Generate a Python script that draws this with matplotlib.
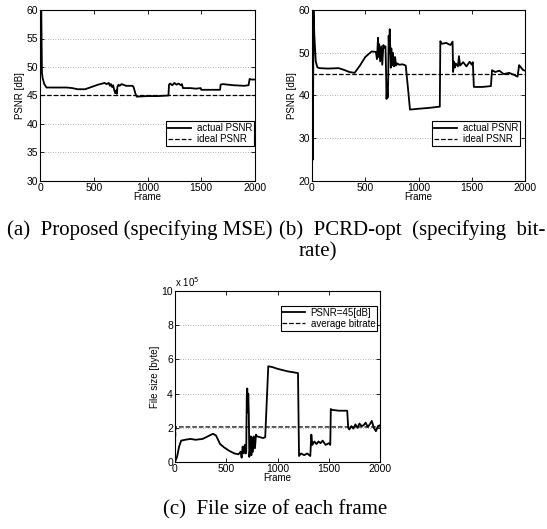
import numpy as np
import matplotlib
matplotlib.use("Agg")
import matplotlib.pyplot as plt

plt.rcParams['font.family'] = ['Liberation Sans', 'DejaVu Sans']

# (a) proposed, PSNR per frame
a_frame = [0, 8, 12, 18, 25, 40, 60, 150, 250, 300,
           350, 420, 480, 540, 600, 620, 640, 650, 660, 670,
           680, 690, 700, 710, 715, 720, 730, 740, 760, 800,
           860, 870, 890, 900, 1000, 1100, 1195, 1200, 1210, 1230,
           1250, 1270, 1290, 1310, 1320, 1330, 1400, 1450, 1495, 1500,
           1600, 1675, 1680, 1700, 1800, 1900, 1940, 1950, 1970, 2000]
a_psnr = [48.0, 60.0, 60.0, 49.0, 48.0, 47.0, 46.4, 46.4, 46.4, 46.3,
          46.1, 46.1, 46.5, 46.9, 47.2, 47.0, 47.2, 46.7, 47.0, 46.5,
          46.8, 46.0, 45.4, 45.9, 45.3, 46.5, 46.9, 46.7, 47.0, 46.7,
          46.7, 46.5, 45.2, 44.8, 44.9, 44.9, 45.0, 46.9, 47.1, 46.8,
          47.2, 46.9, 47.1, 46.8, 47.0, 46.3, 46.3, 46.2, 46.3, 46.0,
          46.0, 46.0, 46.9, 47.0, 46.8, 46.7, 46.8, 47.9, 47.8, 47.8]

# (b) PCRD-opt, PSNR per frame
b_frame = [0, 8, 14, 22, 35, 50, 70, 150, 250, 300,
           350, 400, 450, 500, 560, 600, 610, 620, 625, 630,
           640, 650, 660, 670, 680, 690, 695, 700, 705, 710,
           715, 720, 725, 730, 740, 745, 750, 760, 770, 780,
           790, 800, 820, 850, 880, 900, 920, 1000, 1100, 1200,
           1205, 1220, 1260, 1300, 1320, 1325, 1330, 1340, 1350, 1370,
           1380, 1390, 1420, 1450, 1480, 1500, 1510, 1520, 1600, 1680,
           1690, 1720, 1760, 1800, 1850, 1900, 1930, 1945, 1955, 1980,
           2000]
b_psnr = [60.0, 25.0, 60.0, 54.0, 48.0, 46.6, 46.4, 46.3, 46.4, 46.0,
          45.5, 45.3, 47.0, 49.0, 50.3, 50.2, 48.5, 53.5, 49.0, 52.0,
          48.0, 51.5, 47.2, 51.8, 51.2, 51.5, 46.0, 39.2, 42.0, 39.5,
          43.0, 54.0, 50.0, 55.5, 46.5, 51.0, 47.0, 50.0, 46.8, 49.0,
          47.0, 47.5, 47.2, 47.3, 47.0, 42.0, 36.7, 36.9, 37.1, 37.4,
          52.7, 52.1, 52.3, 51.8, 52.6, 45.5, 48.0, 46.5, 47.5, 46.8,
          49.2, 47.0, 47.8, 46.8, 47.9, 47.2, 47.8, 42.0, 42.0, 42.2,
          45.9, 45.5, 45.8, 45.0, 45.3, 44.8, 44.4, 47.1, 46.8, 46.0,
          45.8]

ideal_psnr = 45

# (c) file size per frame, in units of 1e5 byte
c_frame = [0, 20, 40, 60, 100, 150, 200, 270, 320, 370,
           400, 420, 440, 480, 530, 580, 620, 640, 650, 660,
           670, 680, 690, 695, 700, 705, 710, 715, 720, 725,
           730, 740, 745, 750, 760, 770, 780, 790, 800, 830,
           860, 880, 910, 950, 1000, 1100, 1200, 1210, 1230, 1260,
           1290, 1320, 1330, 1340, 1360, 1380, 1400, 1420, 1440, 1470,
           1500, 1515, 1520, 1530, 1600, 1680, 1690, 1700, 1720, 1740,
           1760, 1780, 1800, 1820, 1840, 1860, 1880, 1900, 1920, 1940,
           1960, 1980, 2000]
c_size = [0.0, 0.3, 0.9, 1.25, 1.3, 1.35, 1.3, 1.35, 1.5, 1.65,
          1.55, 1.3, 1.05, 0.85, 0.65, 0.5, 0.45, 0.6, 0.25, 0.9,
          0.5, 1.0, 0.5, 0.6, 3.8, 4.3, 2.9, 4.0, 2.8, 0.3,
          0.6, 1.5, 0.4, 1.45, 0.6, 1.5, 0.8, 1.6, 1.5, 1.45,
          1.4, 1.45, 5.6, 5.55, 5.45, 5.3, 5.2, 0.35, 0.5, 0.4,
          0.5, 0.35, 1.6, 1.0, 1.2, 1.05, 1.2, 1.1, 1.25, 1.0,
          1.1, 1.0, 3.1, 3.05, 3.0, 3.0, 2.0, 1.9, 2.1, 1.95,
          2.2, 2.0, 2.25, 2.1, 2.15, 2.3, 2.05, 2.2, 2.4, 2.0,
          1.8, 2.1, 2.15]
c_avg_frame = [0, 8, 2000]
c_avg = [0.3, 2.05, 2.05]

tick_fs = 7.5
lab_fs = 7


def style(ax, yticks):
    ax.set_xlim(0, 2000)
    ax.set_xticks([0, 500, 1000, 1500, 2000])
    ax.set_ylim(yticks[0], yticks[-1])
    ax.set_yticks(yticks)
    ax.tick_params(direction='in', top=True, right=True, labelsize=tick_fs,
                   length=3, width=0.6, pad=1.5)
    for s in ax.spines.values():
        s.set_linewidth(0.8)
    for y in yticks[1:-1]:
        ax.axhline(y, color='#999999', ls=(0, (1, 2)), lw=0.6, zorder=0)
    ax.set_xlabel('Frame', fontsize=lab_fs, labelpad=-1)


def legend(ax, loc, anchor):
    leg = ax.legend(loc=loc, bbox_to_anchor=anchor, fontsize=lab_fs,
                    fancybox=False, edgecolor='k', framealpha=1,
                    borderaxespad=0, handlelength=2.3, handletextpad=0.6,
                    borderpad=0.2, labelspacing=0.1)
    leg.get_frame().set_linewidth(0.8)


fig = plt.figure(figsize=(5.47, 5.29), dpi=100)

ax1 = fig.add_axes([40 / 547, 1 - 181 / 529, 215 / 547, 171 / 529])
ax1.plot(a_frame, a_psnr, 'k-', lw=1.3, label='actual PSNR')
ax1.axhline(ideal_psnr, color='k', ls='--', lw=0.9, label='ideal PSNR')
style(ax1, [30, 35, 40, 45, 50, 55, 60])
ax1.set_ylabel('PSNR [dB]', fontsize=lab_fs, labelpad=1)
legend(ax1, 'lower right', (0.995, 0.203))

ax2 = fig.add_axes([312 / 547, 1 - 181 / 529, 213 / 547, 171 / 529])
ax2.plot(b_frame, b_psnr, 'k-', lw=1.3, label='actual PSNR')
ax2.axhline(ideal_psnr, color='k', ls='--', lw=0.9, label='ideal PSNR')
style(ax2, [20, 30, 40, 50, 60])
ax2.set_ylabel('PSNR [dB]', fontsize=lab_fs, labelpad=1)
legend(ax2, 'lower right', (0.976, 0.203))

ax3 = fig.add_axes([175 / 547, 1 - 462 / 529, 205 / 547, 171 / 529])
ax3.plot(c_frame, c_size, 'k-', lw=1.3, label='PSNR=45[dB]')
ax3.plot(c_avg_frame, c_avg, 'k--', lw=0.9, label='average bitrate')
style(ax3, [0, 2, 4, 6, 8, 10])
ax3.set_ylabel('File size [byte]', fontsize=lab_fs, labelpad=1)
ax3.text(0.0, 1.01, r'x 10$^5$', transform=ax3.transAxes, fontsize=lab_fs,
         ha='left', va='bottom')
legend(ax3, 'upper right', (0.987, 0.913))

cap = dict(fontsize=15, family=['Liberation Serif', 'DejaVu Serif'],
           va='center')
fig.text(7 / 547, 1 - 230 / 529, '(a)  Proposed (specifying MSE)',
         ha='left', **cap)
fig.text(279 / 547, 1 - 230 / 529, '(b)  PCRD-opt  (specifying  bit-',
         ha='left', **cap)
fig.text(299 / 547, 1 - 252 / 529, 'rate)', ha='left', **cap)
fig.text(275 / 547, 1 - 510 / 529, '(c)  File size of each frame',
         ha='center', **cap)

fig.savefig('out.png', dpi=100)
